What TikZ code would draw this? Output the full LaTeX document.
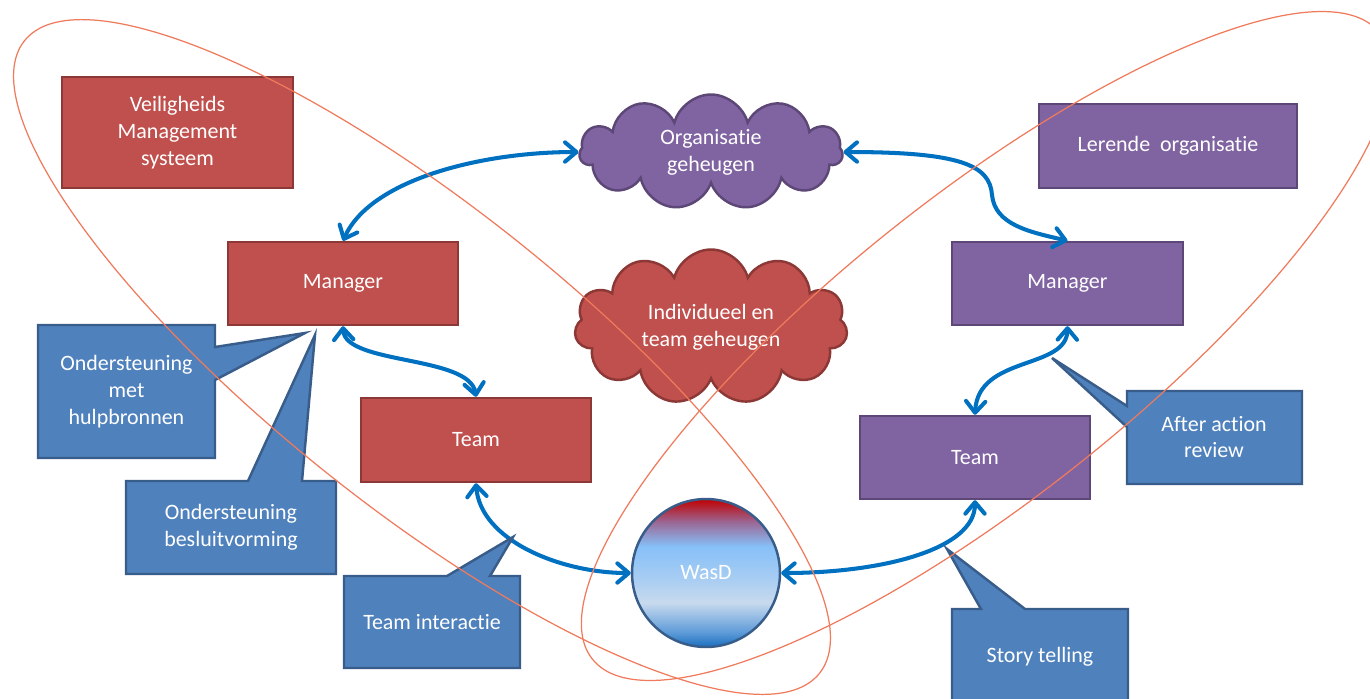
\documentclass[tikz,border=0pt]{standalone}
\usepackage{fontspec}
\setmainfont{Carlito}[Ligatures={NoCommon}]
\usetikzlibrary{shapes.symbols,arrows.meta}
\definecolor{redF}{HTML}{C0504D}
\definecolor{redD}{HTML}{8C3836}
\definecolor{purF}{HTML}{8064A2}
\definecolor{purD}{HTML}{5C4776}
\definecolor{bluF}{HTML}{4F81BD}
\definecolor{bluD}{HTML}{385D8A}
\definecolor{arrC}{HTML}{0070C0}
\definecolor{ellC}{HTML}{F07A5C}
\definecolor{wc0}{HTML}{1A6FC0}
\definecolor{wc1}{HTML}{5E9BD8}
\definecolor{wc2}{HTML}{C8DAEE}
\definecolor{wc3}{HTML}{A8CDF2}
\definecolor{wc4}{HTML}{86C0F8}
\definecolor{wc5}{HTML}{9A6A98}
\definecolor{wc6}{HTML}{C00000}
\pgfdeclareverticalshading{wasdshade}{100bp}{color(0bp)=(wc0); color(25bp)=(wc0); color(30bp)=(wc1); color(40bp)=(wc2); color(48bp)=(wc3); color(59bp)=(wc4); color(67bp)=(wc5); color(75bp)=(wc6); color(100bp)=(wc6)}
\tikzset{
  box/.style={draw, line width=1.4pt, text=white, align=center, inner sep=0pt},
  redbox/.style={box, fill=redF, draw=redD},
  purbox/.style={box, fill=purF, draw=purD},
  cloudbox/.style={cloud, cloud puffs=11, aspect=2.3, cloud ignores aspect, line width=1.4pt, text=white, align=center, inner sep=0pt},
  callout/.style={fill=bluF, draw=bluD, line width=1.4pt, line join=miter},
  ctext/.style={text=white, align=center, inner sep=0pt},
  arr/.style={draw=arrC, line width=2.3pt, line cap=round, >={Straight Barb[round,length=6.5pt,width=11pt]}, <->},
  ell/.style={draw=ellC, line width=0.7pt}
}
\begin{document}
\begin{tikzpicture}[x=0.02cm, y=0.02cm, font=\fontsize{12.5}{15.3}\selectfont]
\useasboundingbox (0,0) rectangle (1370,-698);
\clip (0,0) rectangle (1370,-698);
\fill[white] (0,0) rectangle (1370,-698);

% boxes
\node[redbox, minimum width=4.62cm, minimum height=2.22cm] (vms) at (177.5,-132.5) {Veiligheids\\Management\\systeem};
\node[redbox, minimum width=4.6cm, minimum height=1.66cm] (mgrL) at (343,-283.5) {Manager};
\node[redbox, minimum width=4.6cm, minimum height=1.68cm] (teamL) at (476,-440) {Team};
\node[purbox, minimum width=5.16cm, minimum height=1.68cm] (lerend) at (1168,-146) {Lerende\ \ organisatie};
\node[purbox, minimum width=4.62cm, minimum height=1.66cm] (mgrR) at (1067.5,-283.5) {Manager};
\node[purbox, minimum width=4.6cm, minimum height=1.66cm] (teamR) at (975,-457.5) {Team};

% clouds
\node[cloudbox, draw=purD, fill=purF, minimum width=5.26cm, minimum height=2.3cm] (cloudO) at (711,-152) {Organisatie\\geheugen};
\node[cloudbox, draw=redD, fill=redF, minimum width=5.46cm, minimum height=3.1cm] (cloudI) at (711,-327) {Individueel en\\team geheugen};

% WasD
\node[circle, minimum size=2.96cm, draw=bluD, line width=1.4pt, shading=wasdshade, text=white, inner sep=0pt] (wasd) at (706,-573) {WasD};

% arrows
\draw[arr] (cloudO.west) .. controls (480,-152) and (370,-180) .. (mgrL.north);
\draw[arr] (cloudO.east) .. controls (960,-152) and (990,-165) .. (992,-195) .. controls (995,-225) and (1030,-232) .. (mgrR.north);
\draw[arr] (mgrL.south) .. controls (345,-365) and (470,-355) .. (teamL.north);
\draw[arr] (teamL.south) .. controls (480,-540) and (560,-573) .. (wasd.west);
\draw[arr] (wasd.east) .. controls (880,-573) and (975,-550) .. (teamR.south);
\draw[arr] (mgrR.south) .. controls (1067,-370) and (978,-355) .. (teamR.north);

% callouts
\draw[callout] (38,-325) -- (215,-325) -- (215,-347) -- (305,-333) -- (215,-380) -- (215,-458) -- (38,-458) -- cycle;
\node[ctext] (c1) at (126.5,-391.5) {Ondersteuning\\met\\hulpbronnen};
\draw[callout] (126,-481) -- (248,-481) -- (315,-335) -- (302,-481) -- (336,-481) -- (336,-574) -- (126,-574) -- cycle;
\node[ctext] (c2) at (231,-527.5) {Ondersteuning\\besluitvorming};
\draw[callout] (344,-576) -- (447,-576) -- (513,-537) -- (490,-576) -- (520,-576) -- (520,-668) -- (344,-668) -- cycle;
\node[ctext] (c3) at (432,-622) {Team interactie};
\draw[callout] (952,-609) -- (981,-609) -- (947,-549) -- (1025,-609) -- (1128,-609) -- (1128,-710) -- (952,-710) -- cycle;
\node[ctext] (c4) at (1040,-657) {Story telling};
\draw[callout] (1127,-391) -- (1302,-391) -- (1302,-484) -- (1127,-484) -- (1127,-427) -- (1052,-358) -- (1127,-406) -- cycle;
\node[ctext] (c5) at (1214,-437) {After action\\review};

% ellipses
\draw[ell, rotate around={-38.5:(422,-357)}] (422,-357) ellipse [x radius=508, y radius=150];
\draw[ell, rotate around={38.5:(986,-346)}] (986,-346) ellipse [x radius=503, y radius=150];
\end{tikzpicture}
\end{document}
